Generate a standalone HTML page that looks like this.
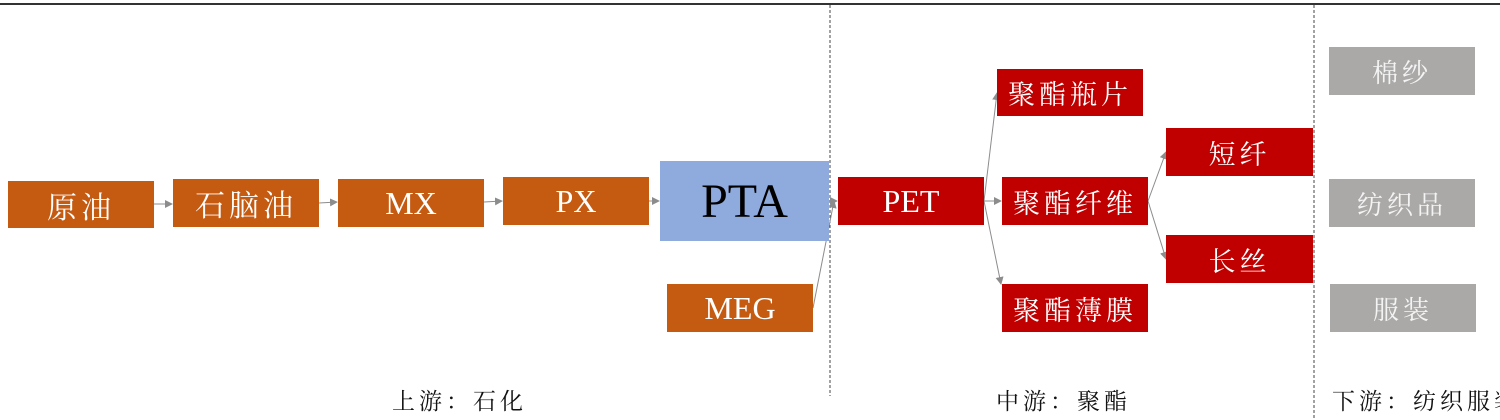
<!DOCTYPE html>
<html><head><meta charset="utf-8"><style>
body{margin:0;width:1500px;height:420px;overflow:hidden;background:#fff;position:relative;font-family:"Liberation Serif","Noto Serif CJK SC","Noto Serif CJK SC",serif}
.b{position:absolute;display:flex;align-items:center;justify-content:center;color:#fff;font-size:27px;letter-spacing:4px;white-space:nowrap}
.e{letter-spacing:0}
.o{background:#c55a11}.r{background:#c00000}.g{background:#aaa9a8;color:#f4f4f4;font-size:26px}
.l{position:absolute;top:383px;font-size:23px;color:#111;white-space:nowrap;letter-spacing:4px}
svg{position:absolute;left:0;top:0}
</style></head><body>
<svg width="1500" height="420">
<defs><marker id="a" markerWidth="8" markerHeight="8" refX="7" refY="4" orient="auto" markerUnits="userSpaceOnUse"><path d="M0,0L8,4L0,8z" fill="#8c8c8c"/></marker></defs>
<line x1="0" y1="4" x2="1500" y2="4" stroke="#333" stroke-width="2"/>
<line x1="830" y1="5" x2="830" y2="396" stroke="#444" stroke-dasharray="3,2"/>
<line x1="1314" y1="5" x2="1314" y2="420" stroke="#444" stroke-dasharray="3,2"/>
<g stroke="#8c8c8c" stroke-width="1" fill="none" marker-end="url(#a)">
<line x1="154" y1="204" x2="172" y2="204"/>
<line x1="319" y1="203" x2="337" y2="202"/>
<line x1="484" y1="202" x2="502" y2="201"/>
<line x1="649" y1="201" x2="659" y2="201"/>
<line x1="829" y1="201" x2="837" y2="201"/>
<line x1="813" y1="308" x2="834" y2="201"/>
<line x1="984" y1="201" x2="1001" y2="201"/>
<line x1="984" y1="201" x2="997" y2="93"/>
<line x1="984" y1="201" x2="1001" y2="284"/>
<line x1="1148" y1="201" x2="1166" y2="152"/>
<line x1="1148" y1="201" x2="1166" y2="259"/>
</g>
</svg>
<div class="b o" style="left:8px;top:181px;width:146px;height:47px;font-size:30px">原油</div>
<div class="b o" style="left:173px;top:179px;width:146px;height:48px;font-size:30px">石脑油</div>
<div class="b o e" style="left:338px;top:179px;width:146px;height:48px;font-size:32px">MX</div>
<div class="b o e" style="left:503px;top:177px;width:146px;height:48px;font-size:32px">PX</div>
<div class="b e" style="left:660px;top:161px;width:169px;height:80px;background:#8faadc;color:#000;font-size:48px">PTA</div>
<div class="b o e" style="left:667px;top:284px;width:146px;height:48px;font-size:32px">MEG</div>
<div class="b r e" style="left:838px;top:177px;width:146px;height:48px;font-size:32px">PET</div>
<div class="b r" style="left:997px;top:69px;width:146px;height:47px">聚酯瓶片</div>
<div class="b r" style="left:1002px;top:177px;width:146px;height:48px">聚酯纤维</div>
<div class="b r" style="left:1002px;top:284px;width:146px;height:48px">聚酯薄膜</div>
<div class="b r" style="left:1166px;top:128px;width:147px;height:48px">短纤</div>
<div class="b r" style="left:1166px;top:235px;width:147px;height:48px">长丝</div>
<div class="b g" style="left:1329px;top:47px;width:146px;height:48px">棉纱</div>
<div class="b g" style="left:1329px;top:179px;width:146px;height:48px">纺织品</div>
<div class="b g" style="left:1330px;top:284px;width:146px;height:48px">服装</div>
<div class="l" style="left:392px">上游：石化</div>
<div class="l" style="left:996px">中游：聚酯</div>
<div class="l" style="left:1332px">下游：纺织服装</div>
</body></html>
